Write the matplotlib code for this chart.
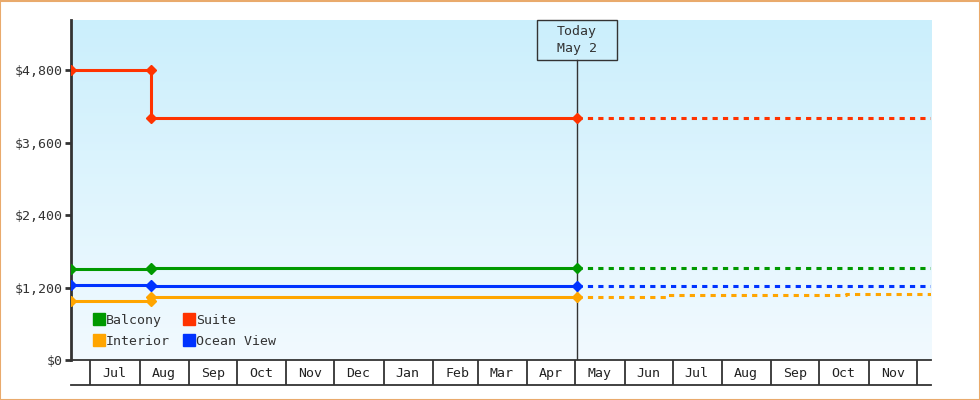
import numpy as np
import matplotlib
matplotlib.use("Agg")
import matplotlib.pyplot as plt
import matplotlib.dates as mdates
from matplotlib.lines import Line2D
from matplotlib.patches import Rectangle
from matplotlib.ticker import FuncFormatter
import datetime as dt

plt.rcParams["font.family"] = ["DejaVu Sans Mono", "DejaVu Sans"]

# history (solid) and forecast (dashed) price series
hist_dates = ["2024-06-19", "2024-08-08", "2024-08-08", "2025-05-02"]
balcony_hist = [1500, 1500, 1520, 1520]
ocean_hist = [1240, 1240, 1220, 1220]
interior_hist = [980, 980, 1050, 1050]
suite_hist = [4800, 4800, 4000, 4000]

fc_dates = ["2025-05-02", "2025-06-27", "2025-10-18", "2025-12-10"]
balcony_fc = [1520, 1520, 1520, 1520]
ocean_fc = [1220, 1220, 1220, 1220]
interior_fc = [1050, 1070, 1090, 1090]
suite_fc = [4000, 4000, 4000, 4000]

today = "2025-05-02"
x_start, x_end = "2024-06-19", "2025-12-10"
y_ticks = [0, 1200, 2400, 3600, 4800]
y_max = 5630

series = [
    ("Balcony", "#009900", balcony_hist, balcony_fc),
    ("Interior", "#ffa500", interior_hist, interior_fc),
    ("Suite", "#ff3300", suite_hist, suite_fc),
    ("Ocean View", "#0033ff", ocean_hist, ocean_fc),
]
draw_order = ["Suite", "Balcony", "Interior", "Ocean View"]

TXT = "#333333"

def d(s):
    return dt.datetime.strptime(s, "%Y-%m-%d")

fig = plt.figure(figsize=(9.8, 4.0), dpi=100)
fig.patches.append(Rectangle((0.0005, 0.001), 0.999, 0.997, transform=fig.transFigure,
                             fill=False, edgecolor="#e9aa6c", linewidth=1.5))
ax = fig.add_axes([71 / 980, 40 / 400, 860 / 980, 340 / 400])

# background gradient
grad = np.linspace(0, 1, 256).reshape(-1, 1)
top = np.array([0xcb, 0xef, 0xfc]) / 255
bot = np.array([0xf2, 0xfa, 0xff]) / 255
img = top + (bot - top) * grad[:, :, None]
ax.imshow(img, extent=[0, 1, 0, 1], transform=ax.transAxes, aspect="auto", zorder=0)

hd = [d(s) for s in hist_dates]
fd = [d(s) for s in fc_dates]
lookup = {name: (c, h, f) for name, c, h, f in series}
for name in draw_order:
    color, h, f = lookup[name]
    ax.plot(hd, h, drawstyle="steps-post", color=color, lw=2.2, zorder=3)
    ax.plot(hd, h, "D", color=color, ms=4.8, zorder=4, lw=0)
    ax.plot(fd, f, drawstyle="steps-post", color=color, lw=2.2, dashes=(1.7, 1.7), zorder=3)

ax.set_xlim(d(x_start), d(x_end))
ax.set_ylim(0, y_max)

# today marker
t = mdates.date2num(d(today))
box_h = 40 / 340
ax.plot([t, t], [0, 1 - box_h], transform=ax.get_xaxis_transform(), color=TXT, lw=1, zorder=2)
half_w = 40 / 860 * (mdates.date2num(d(x_end)) - mdates.date2num(d(x_start)))
ax.add_patch(Rectangle((t - half_w, 1 - box_h), 2 * half_w, box_h, transform=ax.get_xaxis_transform(),
                       facecolor="none", edgecolor=TXT, lw=1, zorder=5, clip_on=False))
ax.text(t, 1 - box_h / 2, "Today\nMay 2", transform=ax.get_xaxis_transform(), ha="center", va="center",
        fontsize=9.5, color=TXT, linespacing=1.35, zorder=6)

# axes styling
for s in ["top", "right"]:
    ax.spines[s].set_visible(False)
ax.spines["left"].set_color(TXT)
ax.spines["left"].set_linewidth(2)
ax.spines["bottom"].set_color(TXT)
ax.spines["bottom"].set_linewidth(1.3)

ax.set_yticks(y_ticks)
ax.yaxis.set_major_formatter(FuncFormatter(lambda v, p: f"${v:,.0f}"))
ax.tick_params(axis="y", length=4, width=2, color=TXT, labelcolor=TXT, labelsize=9.5, pad=2)

ax.xaxis.set_major_locator(mdates.MonthLocator())
ax.xaxis.set_major_formatter(plt.NullFormatter())
ax.xaxis.set_minor_locator(mdates.MonthLocator(bymonthday=16))
ax.xaxis.set_minor_formatter(mdates.DateFormatter("%b"))
ax.tick_params(axis="x", which="major", length=18, width=1.3, color=TXT, direction="out")
ax.tick_params(axis="x", which="minor", length=0, labelsize=9.5, labelcolor="#222222", pad=5)
ax.plot([0, 1], [-25 / 340, -25 / 340], transform=ax.transAxes, color=TXT, lw=1.3, clip_on=False)

handles = [Line2D([], [], marker="s", ls="none", color=c, ms=8) for _, c, _, _ in series]
ax.legend(handles, [n for n, _, _, _ in series], ncol=2, loc="lower left",
          bbox_to_anchor=(0.0155, 0.009), frameon=False, fontsize=9.5, handlelength=0.8,
          handletextpad=0.15, columnspacing=1.05, labelspacing=0.6, borderaxespad=0.3,
          labelcolor=TXT)

fig.savefig("out.png", dpi=100)
